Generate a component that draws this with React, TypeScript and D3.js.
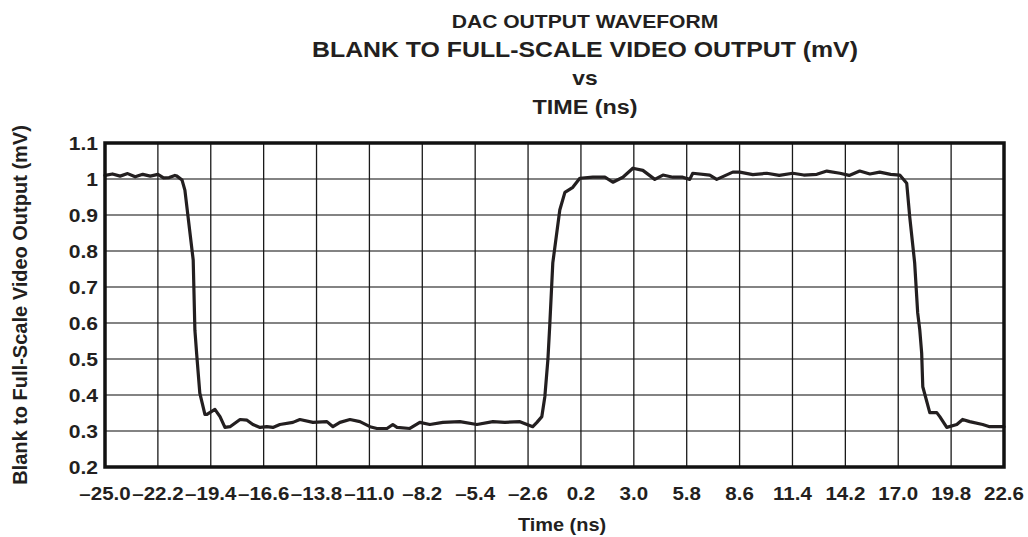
import * as d3 from 'd3';

// time axis (ns) and output (mV)
const xTicks = [-25.0, -22.2, -19.4, -16.6, -13.8, -11.0, -8.2, -5.4, -2.6, 0.2, 3.0, 5.8, 8.6, 11.4, 14.2, 17.0, 19.8, 22.6];
const yTicks = [0.2, 0.3, 0.4, 0.5, 0.6, 0.7, 0.8, 0.9, 1.0, 1.1];

const timeNs = [
  -25.0, -24.6, -24.2, -23.8, -23.4, -23.0, -22.6, -22.2, -21.9, -21.6, -21.3, -21.19,
  -20.92, -20.77, -20.33, -20.24, -20.15, -19.98, -19.71, -19.6, -19.18, -18.91, -18.65,
  -18.38, -17.85, -17.48, -17.17, -16.79, -16.43, -16.11, -15.74, -15.05, -14.68, -13.99,
  -13.25, -12.93, -12.56, -12.03, -11.5, -10.97, -10.6, -10.07, -9.76, -9.54, -8.86,
  -8.33, -7.8, -7.11, -6.21, -5.31, -4.46, -3.83, -3.03, -2.35, -2.13, -1.87, -1.71,
  -1.55, -1.45, -1.29, -0.92, -0.65, -0.23, 0.14, 0.83, 1.47, 1.89, 2.42, 2.95, 3.48,
  4.11, 4.54, 5.07, 5.59, 5.96, 6.12, 7.02, 7.39, 8.24, 8.61, 9.3, 10.04, 10.7, 11.42, 12.0, 12.69,
  13.22, 13.91, 14.4, 14.96, 15.5, 16.02, 16.6, 17.08, 17.45, 17.61, 17.87, 18.03, 18.14, 18.24, 18.3,
  18.67, 19.04, 19.2, 19.57, 20.1, 20.41, 20.78, 21.47, 21.84, 22.6,
];
const outputMv = [
  1.010, 1.014, 1.008, 1.015, 1.006, 1.013, 1.008, 1.013, 1.003, 1.004, 1.010, 1.008,
  0.997, 0.969, 0.775, 0.580, 0.516, 0.405, 0.346, 0.346, 0.360, 0.340, 0.310,
  0.312, 0.332, 0.330, 0.318, 0.310, 0.312, 0.310, 0.318, 0.324, 0.332, 0.324,
  0.326, 0.312, 0.324, 0.332, 0.326, 0.312, 0.307, 0.307, 0.318, 0.310, 0.307,
  0.324, 0.318, 0.324, 0.326, 0.318, 0.326, 0.324, 0.326, 0.312, 0.324, 0.340, 0.396,
  0.498, 0.595, 0.767, 0.914, 0.963, 0.977, 1.002, 1.005, 1.005, 0.991, 1.005, 1.030, 1.024,
  0.999, 1.011, 1.005, 1.005, 0.999, 1.016, 1.011, 0.999, 1.019, 1.019, 1.012, 1.016, 1.010, 1.016, 1.011, 1.013,
  1.022, 1.016, 1.010, 1.022, 1.014, 1.019, 1.013, 1.011, 0.988, 0.894, 0.767, 0.628, 0.581, 0.517, 0.423,
  0.351, 0.351, 0.340, 0.310, 0.318, 0.332, 0.326, 0.318, 0.312, 0.312,
];

const W = 1028;
const H = 537;
const margin = { top: 143, right: 24, bottom: 70, left: 105 };
const FONT = '"Liberation Sans", Arial, Helvetica, sans-serif';
const SX = 1.14; // the scan is stretched horizontally

export default function App() {
  const x = d3.scaleLinear().domain([-25.0, 22.6]).range([margin.left, W - margin.right]);
  const y = d3.scaleLinear().domain([0.2, 1.1]).range([H - margin.bottom, margin.top]);

  const points: [number, number][] = timeNs.map((t, i) => [t, outputMv[i]]);
  const line = d3.line<[number, number]>()
    .x(d => x(d[0]))
    .y(d => y(d[1]))
    .curve(d3.curveLinear);

  const cx = 585;
  const fmtX = (v: number) => (v < 0 ? '\u2013' : '') + Math.abs(v).toFixed(1);
  const fmtY = (v: number) => (v === 1 ? '1' : String(+v.toFixed(1)));

  return (
    <div style={{ position: 'absolute', left: 0, top: 0 }}>
      <svg width={W} height={H} style={{ display: 'block', background: '#fff' }} fontFamily={FONT} fontWeight="bold" fill="#231f20">
        {/* titles */}
        <text transform={`translate(${cx},28) scale(${SX},1)`} textAnchor="middle" fontSize={18.5}>DAC OUTPUT WAVEFORM</text>
        <text transform={`translate(${cx},57) scale(${SX},1)`} textAnchor="middle" fontSize={21.8}>BLANK TO FULL-SCALE VIDEO OUTPUT (mV)</text>
        <text transform={`translate(${cx},85) scale(${SX},1)`} textAnchor="middle" fontSize={20}>vs</text>
        <text transform={`translate(${cx},114) scale(${SX},1)`} textAnchor="middle" fontSize={20.5}>TIME (ns)</text>

        {/* grid */}
        <g>
          {yTicks.slice(1, -1).map(v => (
            <line key={'h' + v} x1={x(-25)} x2={x(22.6)} y1={y(v)} y2={y(v)} stroke="#5a5a5a" strokeWidth={1.6} />
          ))}
          {xTicks.slice(1, -1).map(v => (
            <line key={'v' + v} x1={x(v)} x2={x(v)} y1={y(1.1)} y2={y(0.2)} stroke="#1a1a1a" strokeWidth={1.3} />
          ))}
        </g>

        {/* waveform */}
        <path d={line(points) ?? ''} fill="none" stroke="#231f20" strokeWidth={3.2} strokeLinejoin="round" strokeLinecap="round" />

        {/* frame */}
        <rect x={x(-25)} y={y(1.1)} width={x(22.6) - x(-25)} height={y(0.2) - y(1.1)} fill="none" stroke="#111" strokeWidth={3.5} />

        {/* y tick labels */}
        {yTicks.map(v => (
          <text key={'yl' + v} transform={`translate(98,${y(v) + 6.5}) scale(${SX},1)`} textAnchor="end" fontSize={18.5}>{fmtY(v)}</text>
        ))}

        {/* x tick labels */}
        {xTicks.map(v => (
          <text key={'xl' + v} transform={`translate(${x(v)},500) scale(${SX},1)`} textAnchor="middle" fontSize={18}>{fmtX(v)}</text>
        ))}

        {/* axis titles */}
        <text transform={`translate(562,531) scale(${SX},1)`} textAnchor="middle" fontSize={17.5}>Time (ns)</text>
        <text transform={`translate(27,305) rotate(-90)`} textAnchor="middle" fontSize={20}>Blank to Full-Scale Video Output (mV)</text>
      </svg>
    </div>
  );
}
